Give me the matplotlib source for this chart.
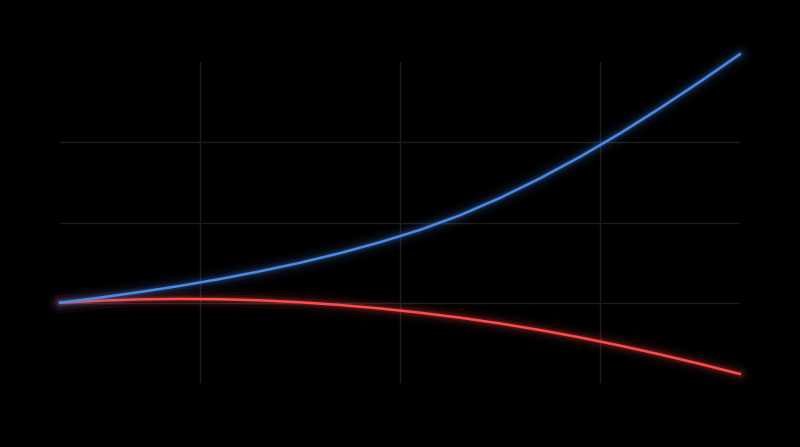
import matplotlib
matplotlib.use("Agg")
import matplotlib.pyplot as plt

# Data
x = [0.6, 1.0, 1.4, 1.8, 2.2, 2.6, 3.0, 3.4, 3.8, 4.2, 4.6, 5.0, 5.4, 5.8, 6.2, 6.6, 7.0, 7.4]
blue = [1.000, 1.032, 1.067, 1.105, 1.148, 1.196, 1.249, 1.309, 1.377, 1.454,
        1.545, 1.653, 1.775, 1.909, 2.055, 2.212, 2.377, 2.549]
red = [1.000, 1.013, 1.021, 1.024, 1.022, 1.015, 1.003, 0.986, 0.9645, 0.938,
       0.907, 0.871, 0.830, 0.784, 0.733, 0.678, 0.619, 0.556]
xticks = [2, 4, 6]
yticks = [1.0, 1.5, 2.0]
ylim = (0.5, 2.5)

BLUE = "#4a8ae6"
RED = "#ff4a4a"

fig = plt.figure(figsize=(8, 4.47), dpi=100, facecolor="black")
ax = fig.add_axes([0.075, 64 / 447, 0.85, 321 / 447], facecolor="black")
ax.set_xlim(min(x), max(x))
ax.set_ylim(*ylim)
ax.set_xticks(xticks)
ax.set_yticks(yticks)
ax.grid(True, color="#1c1c1c", linewidth=1.0)
ax.tick_params(length=0, labelbottom=False, labelleft=False)
for s in ax.spines.values():
    s.set_visible(False)

for ys, c in [(red, RED), (blue, BLUE)]:
    for lw, a in [(16, 0.03), (11, 0.05), (7, 0.09), (4, 0.16)]:
        ax.plot(x, ys, color=c, linewidth=lw, alpha=a, clip_on=False,
                solid_capstyle="round", solid_joinstyle="round")
    ax.plot(x, ys, color=c, linewidth=1.8, clip_on=False,
            solid_capstyle="round", solid_joinstyle="round")

fig.savefig("out.png", dpi=100, facecolor="black")
